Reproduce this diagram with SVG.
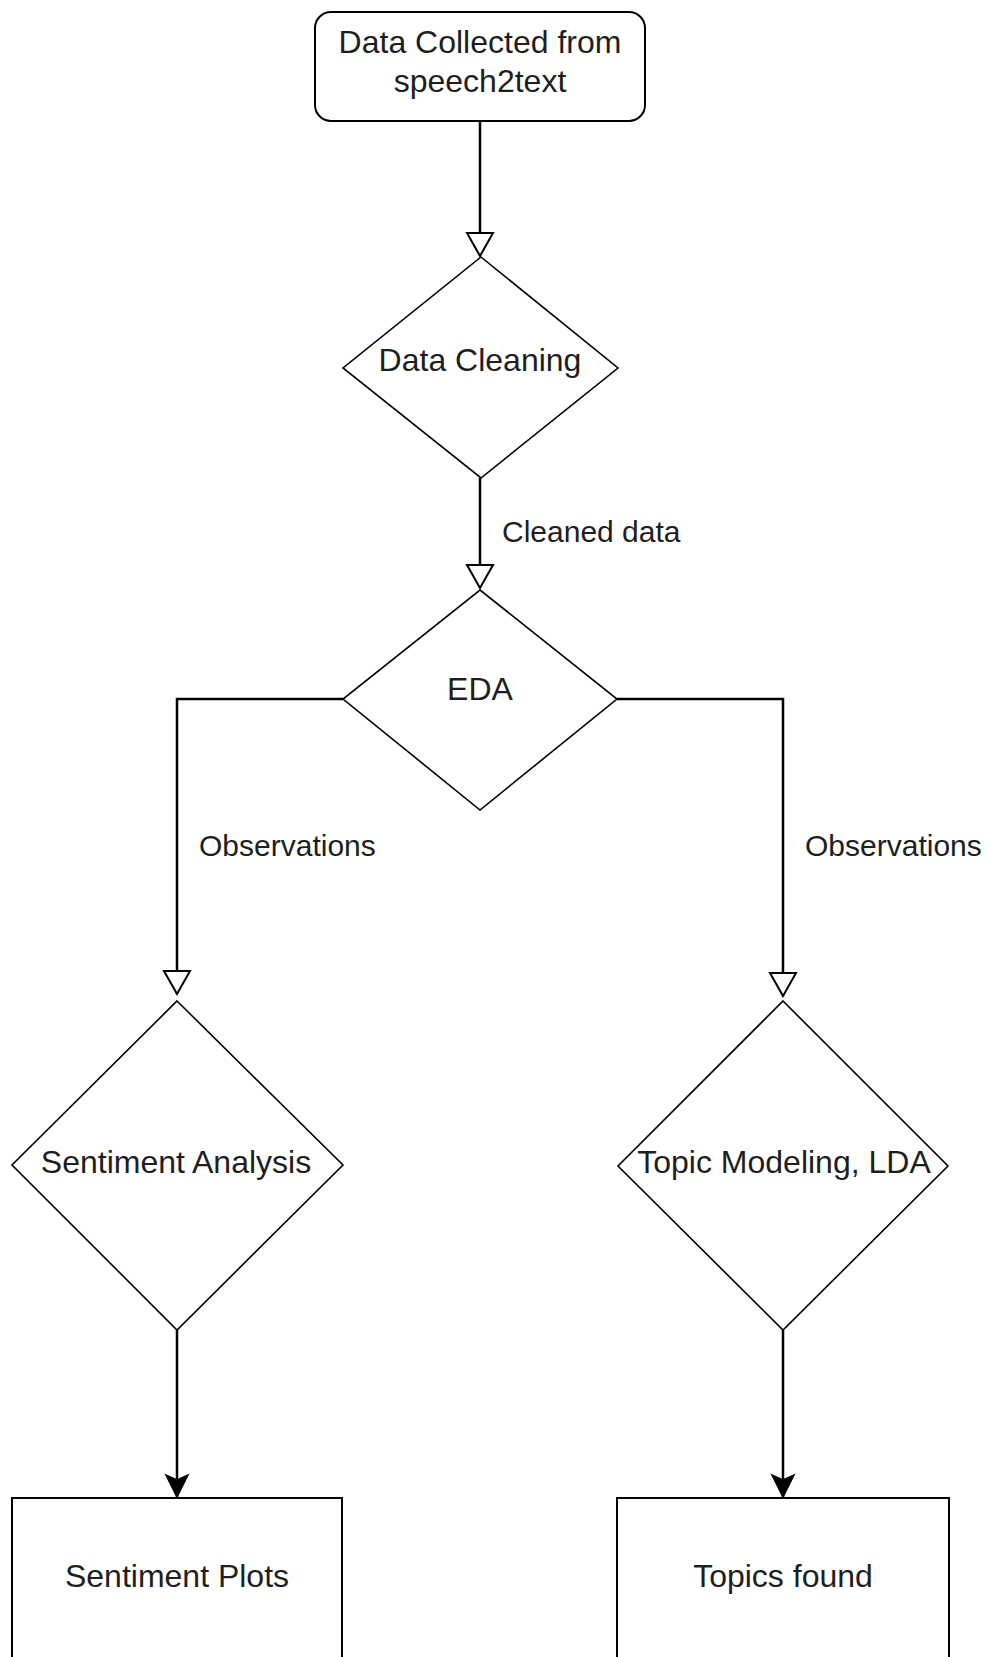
<svg xmlns="http://www.w3.org/2000/svg" width="987" height="1657" viewBox="0 0 987 1657">
  <style>
    .node { fill: #ffffff; stroke: #000000; }
    .box { stroke-width: 2; }
    .dia { stroke-width: 1.6; }
    .edge { fill: none; stroke: #000000; stroke-width: 2.5; }
    .t { font-family: "Liberation Sans", Arial, Helvetica, sans-serif; font-size: 32px; fill: #1e1e1e; text-anchor: middle; }
    .lbl { font-family: "Liberation Sans", Arial, Helvetica, sans-serif; font-size: 30px; fill: #1e1e1e; }
  </style>
  <defs>
    <marker id="openArrow" markerUnits="userSpaceOnUse" markerWidth="26" markerHeight="28" refX="23" refY="13" orient="auto" overflow="visible">
      <path d="M0,0 L23,13 L0,26 Z" fill="#ffffff" stroke="#000000" stroke-width="2"/>
    </marker>
    <marker id="solidArrow" markerUnits="userSpaceOnUse" markerWidth="24" markerHeight="24" refX="22" refY="11" orient="auto" overflow="visible">
      <path d="M0,0 L22,11 L0,22 L5,11 Z" fill="#000000" stroke="#000000" stroke-width="1.5"/>
    </marker>
  </defs>
  <rect width="987" height="1657" fill="#ffffff"/>

  <g id="connectors">
    <path class="edge" d="M480,121 V256" marker-end="url(#openArrow)"/>
    <path class="edge" d="M480,478 V588" marker-end="url(#openArrow)"/>
    <text class="lbl" x="502" y="542">Cleaned data</text>
    <path class="edge" d="M343,699 H177 V994" marker-end="url(#openArrow)"/>
    <text class="lbl" x="199" y="856">Observations</text>
    <path class="edge" d="M617,699 H783 V996" marker-end="url(#openArrow)"/>
    <text class="lbl" x="805" y="856">Observations</text>
    <path class="edge" d="M177,1330 V1497" marker-end="url(#solidArrow)"/>
    <path class="edge" d="M783,1330 V1497" marker-end="url(#solidArrow)"/>
  </g>

  <g id="node-data-collected">
    <rect class="node box" x="315" y="12" width="330" height="109" rx="16" ry="16"/>
    <text class="t" x="480" y="53">Data Collected from</text>
    <text class="t" x="480" y="92">speech2text</text>
  </g>

  <g id="node-data-cleaning">
    <polygon class="node dia" points="481,257 618,368 481,478 343,368"/>
    <text class="t" x="480" y="371">Data Cleaning</text>
  </g>

  <g id="node-eda">
    <polygon class="node dia" points="480,590 617,699 480,810 343,699"/>
    <text class="t" x="480" y="700">EDA</text>
  </g>

  <g id="node-sentiment-analysis">
    <polygon class="node dia" points="177,1001 343,1165 177,1330 12,1165"/>
    <text class="t" x="176" y="1173">Sentiment Analysis</text>
  </g>

  <g id="node-topic-modeling">
    <polygon class="node dia" points="783,1001 948,1166 783,1330 618,1166"/>
    <text class="t" x="784" y="1173">Topic Modeling, LDA</text>
  </g>

  <g id="node-sentiment-plots">
    <rect class="node box" x="12" y="1498" width="330" height="172"/>
    <text class="t" x="177" y="1587">Sentiment Plots</text>
  </g>

  <g id="node-topics-found">
    <rect class="node box" x="617" y="1498" width="332" height="172"/>
    <text class="t" x="783" y="1587">Topics found</text>
  </g>
</svg>
